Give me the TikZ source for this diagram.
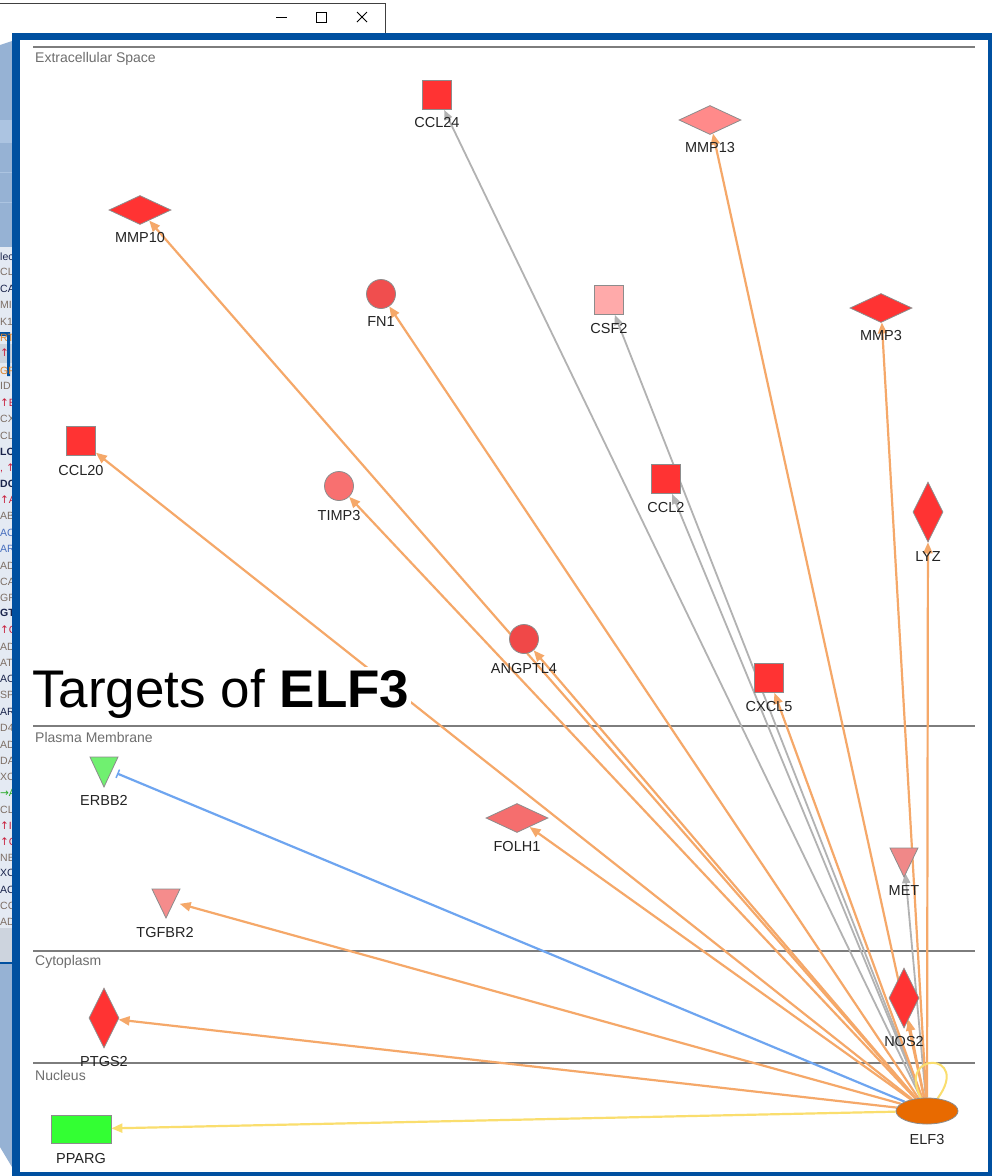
\documentclass[tikz,border=0pt]{standalone}
\usepackage{fontspec}
\setmainfont{Liberation Sans}
\newfontfamily\symfont{DejaVu Sans}
\usetikzlibrary{shapes.geometric,arrows.meta}
\pgfdeclarelayer{bg}
\pgfdeclarelayer{edges}
\pgfsetlayers{bg,edges,main}
\definecolor{panelblue}{RGB}{0,80,160}
\definecolor{bgblue}{RGB}{150,178,212}
\definecolor{bgband}{RGB}{172,196,225}
\definecolor{listbg}{RGB}{228,234,243}
\definecolor{listgray}{RGB}{205,212,222}
\definecolor{edgeorange}{RGB}{245,168,105}
\definecolor{edgegray}{RGB}{178,178,178}
\definecolor{edgeblue}{RGB}{110,165,240}
\definecolor{edgeyellow}{RGB}{250,222,110}
\definecolor{nodeborder}{RGB}{140,140,140}
\definecolor{nred}{RGB}{255,51,51}
\definecolor{nfn}{RGB}{240,78,78}
\definecolor{nang}{RGB}{240,72,72}
\definecolor{nmmp13}{RGB}{255,138,138}
\definecolor{ncsf}{RGB}{255,170,170}
\definecolor{ntimp}{RGB}{248,112,112}
\definecolor{nfolh}{RGB}{245,110,110}
\definecolor{nmet}{RGB}{240,136,136}
\definecolor{ntgf}{RGB}{245,140,140}
\definecolor{nerbb}{RGB}{112,240,112}
\definecolor{npparg}{RGB}{51,255,51}
\definecolor{nelf}{RGB}{232,106,0}
\definecolor{lbltext}{RGB}{35,35,35}
\definecolor{comptext}{RGB}{110,110,110}
\definecolor{compline}{RGB}{125,125,125}
\definecolor{fgray}{RGB}{125,110,100}
\definecolor{fnavy}{RGB}{25,35,75}
\definecolor{forange}{RGB}{220,130,40}
\definecolor{fblue}{RGB}{70,110,190}
\definecolor{fred}{RGB}{200,30,60}
\definecolor{fgreen}{RGB}{40,170,40}
\begin{document}
\begin{tikzpicture}[x=1pt,y=-1pt,
  shapebase/.style={draw=nodeborder,line width=0.8,inner sep=0},
  sqnode/.style={shapebase,rectangle,minimum width=29,minimum height=29},
  hdia/.style={shapebase,diamond,minimum width=62,minimum height=29},
  vdia/.style={shapebase,diamond,minimum width=30,minimum height=60},
  circnode/.style={shapebase,circle,minimum size=29},
  trinode/.style={circle,inner sep=0,minimum size=28},
  trifill/.style={draw=nodeborder,line width=0.8},
  lbl/.style={inner sep=0,text=lbltext,font=\fontsize{14.5}{16}\selectfont},
  complbl/.style={inner sep=0,anchor=west,text=comptext,font=\fontsize{14}{16}\selectfont},
  comp/.style={draw=compline,line width=1.2},
  frag/.style={inner sep=0,anchor=west,font=\fontsize{10.5}{12}\selectfont},
  oedge/.style={draw=edgeorange,line width=2.2,-{Triangle[length=11pt,width=9pt]}},
  gedge/.style={draw=edgegray,line width=1.8,-{Triangle[length=10pt,width=8pt]}},
  bedge/.style={draw=edgeblue,line width=2.2,-{Bar[width=9pt,line width=1.5pt]}},
  yedge/.style={draw=edgeyellow,line width=2.2,-{Triangle[length=11pt,width=9pt]}},
]
\useasboundingbox (0,0) rectangle (1000,1176);
\begin{pgfonlayer}{bg}
\fill[white] (0,0) rectangle (1000,1176);
% window behind, left strip
\fill[bgblue] (0,45) -- (12,41) -- (12,1167) -- (0,1147) -- cycle;
\fill[bgband] (0,120) rectangle (12,143);
\draw[bgband,line width=1] (0,172) -- (12,172) (0,202) -- (12,202);
\fill[listbg] (0,247) rectangle (12,928);
\fill[listgray] (0,344) rectangle (12,363);
\fill[listgray] (0,928) rectangle (12,962);
\draw[panelblue,line width=1.2] (0,963) -- (12,963);
\fill[panelblue] (0,332) rectangle (10,336) (7,336) rectangle (10,376);
\foreach \yy/\tt/\cc [count=\i] in {
  257/lec/fnavy, 272/CL/fgray, 289/CA/fnavy, 305/MI/fgray, 322/K1/fgray,
  338/RT/forange, 353/{\symfont ↑}/fred, 371/GP/forange, 386/ID/fgray,
  403/{\symfont ↑}BL/fred, 419/CX/fgray, 436/CL/fgray, 452/\textbf{LO}/fnavy,
  468/{, \symfont ↑}/fred, 484/\textbf{DC}/fnavy, 500/{\symfont ↑}A/fred,
  516/AB/fgray, 533/AC/fblue, 549/AR/fblue, 566/AD/fgray, 582/CA/fgray,
  598/GF/fgray, 614/\textbf{{GT,}}/fnavy, 630/{\symfont ↑}C/fred, 647/AD/fgray,
  663/ATF/fgray, 679/AC/fnavy, 695/SP/fgray, 712/AR/fnavy, 728/D4/fgray,
  745/AD/fgray, 761/DA/fgray, 777/XC/fgray, 793/{\symfont →}A/fgreen,
  810/CL/fgray, 826/{\symfont ↑}ID/fred, 842/{\symfont ↑}C/fred, 858/NB/fgray,
  873/XCE/fnavy, 890/AC/fnavy, 906/CCL/fgray, 922/AD/fgray}
  \node[frag,text=\cc] (frag\i) at (0,\yy) {\tt};
% window behind, title bar
\fill[white] (0,4) rectangle (385,33);
\draw[black!75,line width=1] (0,3.5) -- (385,3.5) -- (385,33);
\draw[black,line width=0.9] (276,17) -- (287,17);
\draw[black,line width=0.9] (316,12) rectangle (326,22);
\draw[black,line width=0.9] (357,12) -- (367,22) (357,22) -- (367,12);
% main panel
\fill[panelblue] (12,33) rectangle (992,1176);
\fill[white] (20,40) rectangle (988,1172);
% compartments
\draw[comp] (33,47) -- (975,47);
\draw[comp] (33,726) -- (975,726);
\draw[comp] (33,951) -- (975,951);
\draw[comp] (33,1063) -- (975,1063);
\end{pgfonlayer}
\node[complbl] (c-ec) at (35,59) {Extracellular Space};
\node[complbl] (c-pm) at (35,737) {Plasma Membrane};
\node[complbl] (c-cy) at (35,962) {Cytoplasm};
\node[complbl] (c-nu) at (35,1075) {Nucleus};
% nodes
\node[sqnode,fill=nred] (ccl24) at (437,95) {};
\node[hdia,fill=nmmp13] (mmp13) at (710,120) {};
\node[hdia,fill=nred] (mmp10) at (140,210) {};
\node[circnode,fill=nfn] (fn1) at (381,294) {};
\node[sqnode,fill=ncsf] (csf2) at (609,300) {};
\node[hdia,fill=nred] (mmp3) at (881,308) {};
\node[sqnode,fill=nred] (ccl20) at (81,441) {};
\node[circnode,fill=ntimp] (timp3) at (339,486) {};
\node[sqnode,fill=nred] (ccl2) at (666,479) {};
\node[vdia,fill=nred] (lyz) at (928,512) {};
\node[circnode,fill=nang] (angptl4) at (524,639) {};
\node[sqnode,fill=nred] (cxcl5) at (769,678) {};
\node[hdia,fill=nfolh] (folh1) at (517,818) {};
\node[vdia,fill=nred] (ptgs2) at (104,1018) {};
\node[vdia,fill=nred] (nos2) at (904,998) {};
\node[shapebase,rectangle,minimum width=60,minimum height=28,fill=npparg] (pparg) at (81,1129) {};
\node[shapebase,ellipse,minimum width=62,minimum height=26,fill=nelf] (elf3) at (927,1111) {};
\node[trinode] (erbb2) at (104,768) {};
\node[trinode] (met) at (904,859) {};
\node[trinode] (tgfbr2) at (166,900) {};
\filldraw[trifill,fill=nerbb] (90,757) -- (118,757) -- (104,787) -- cycle;
\filldraw[trifill,fill=nmet] (890,848) -- (918,848) -- (904,877) -- cycle;
\filldraw[trifill,fill=ntgf] (152,889) -- (180,889) -- (166,918) -- cycle;
% labels
\node[lbl] (l-ccl24) at (437,123) {CCL24};
\node[lbl] (l-mmp13) at (710,148) {MMP13};
\node[lbl] (l-mmp10) at (140,238) {MMP10};
\node[lbl] (l-fn1) at (381,322) {FN1};
\node[lbl] (l-csf2) at (609,329) {CSF2};
\node[lbl] (l-mmp3) at (881,336) {MMP3};
\node[lbl] (l-ccl20) at (81,470) {CCL20};
\node[lbl] (l-timp3) at (339,515) {TIMP3};
\node[lbl] (l-ccl2) at (666,507) {CCL2};
\node[lbl] (l-lyz) at (928,557) {LYZ};
\node[lbl] (l-angptl4) at (524,668) {ANGPTL4};
\node[lbl] (l-cxcl5) at (769,706) {CXCL5};
\node[lbl] (l-erbb2) at (104,800) {ERBB2};
\node[lbl] (l-folh1) at (517,846) {FOLH1};
\node[lbl] (l-met) at (904,890) {MET};
\node[lbl] (l-tgfbr2) at (165,932) {TGFBR2};
\node[lbl] (l-ptgs2) at (104,1061) {PTGS2};
\node[lbl] (l-nos2) at (904,1041) {NOS2};
\node[lbl] (l-pparg) at (81,1158) {PPARG};
\node[lbl] (l-elf3) at (927,1139) {ELF3};
% edges
\begin{pgfonlayer}{edges}
\draw[gedge] (elf3) -- (ccl24);
\draw[gedge] (elf3) -- (csf2);
\draw[gedge] (elf3) -- (ccl2);
\draw[gedge] (elf3) -- (met);
\draw[oedge] (elf3) -- (mmp13);
\draw[oedge] (elf3) -- (mmp10);
\draw[oedge] (elf3) -- (fn1);
\draw[oedge] (elf3) -- (mmp3);
\draw[oedge] (elf3) -- (ccl20);
\draw[oedge] (elf3) -- (timp3);
\draw[oedge] (elf3) -- (lyz);
\draw[oedge] (elf3) -- (angptl4);
\draw[oedge] (elf3) -- (cxcl5);
\draw[oedge] (elf3) -- (folh1);
\draw[oedge] (elf3) -- (tgfbr2);
\draw[oedge] (elf3) -- (ptgs2);
\draw[oedge] (elf3) -- (nos2);
\draw[bedge] (elf3) -- (erbb2);
\draw[yedge] (elf3) -- (pparg);
\draw[edgeyellow,line width=2] (elf3.115) .. controls (896,1050) and (972,1052) .. (elf3.50);
\end{pgfonlayer}
% title
\node[fill=white,inner sep=2pt,anchor=base west,font=\fontsize{53}{60}\selectfont] (title) at (30,707) {Targets of \textbf{ELF3}};
\end{tikzpicture}
\end{document}
